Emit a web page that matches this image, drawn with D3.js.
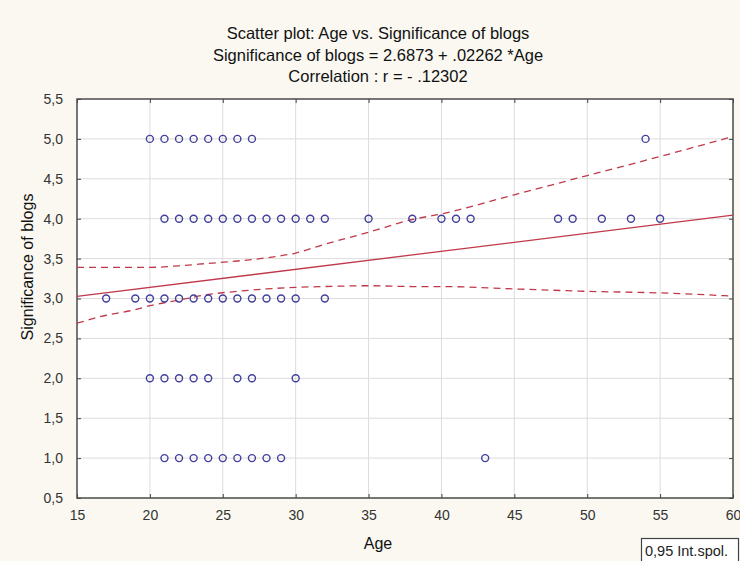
<!DOCTYPE html>
<html>
<head>
<meta charset="utf-8">
<script src="https://cdn.jsdelivr.net/npm/d3@7/dist/d3.min.js"></script>
<style>
  html, body { margin: 0; padding: 0; background: #faf8f1; }
  svg { display: block; }
  text { font-family: "Liberation Sans", Arial, sans-serif; }
</style>
</head>
<body>
<svg id="chart" width="740" height="561"></svg>
<script>
// ---- data ----
const titleLines = [
  "Scatter plot: Age vs. Significance of blogs",
  "Significance of blogs = 2.6873 + .02262 *Age",
  "Correlation : r = - .12302"
];
const xTicks = [15, 20, 25, 30, 35, 40, 45, 50, 55, 60];
const yTicks = [0.5, 1.0, 1.5, 2.0, 2.5, 3.0, 3.5, 4.0, 4.5, 5.0, 5.5];

const ageAt5 = [20, 21, 22, 23, 24, 25, 26, 27, 54];
const ageAt4 = [21, 22, 23, 24, 25, 26, 27, 28, 29, 30, 31, 32, 35, 38, 40, 41, 42, 48, 49, 51, 53, 55];
const ageAt3 = [17, 19, 20, 21, 22, 23, 24, 25, 26, 27, 28, 29, 30, 32];
const ageAt2 = [20, 21, 22, 23, 24, 26, 27, 30];
const ageAt1 = [21, 22, 23, 24, 25, 26, 27, 28, 29, 43];

const fitAge = [15, 60];
const fitValue = [3.026, 4.044];

const bandAge   = [15, 17, 19, 20, 22, 24, 26, 28, 30, 32, 35, 38, 40, 45, 50, 55, 60];
const bandUpper = [3.39, 3.39, 3.39, 3.39, 3.41, 3.44, 3.47, 3.51, 3.57, 3.68, 3.83, 3.99, 4.06, 4.30, 4.54, 4.78, 5.03];
const bandLower = [2.69, 2.79, 2.86, 2.91, 2.98, 3.05, 3.09, 3.12, 3.14, 3.15, 3.16, 3.15, 3.15, 3.12, 3.09, 3.07, 3.03];

const legendText = "0,95 Int.spol.";
const xLabel = "Age";
const yLabel = "Significance of blogs";

(function () {
// ---- build ----
const points = [];
[[5, ageAt5], [4, ageAt4], [3, ageAt3], [2, ageAt2], [1, ageAt1]].forEach(([v, ages]) => {
  ages.forEach(a => points.push({ age: a, sig: v }));
});

const svg = d3.select("#chart");
const pL = 77, pR = 733, pT = 99, pB = 498;

const x = d3.scaleLinear().domain([15, 60]).range([pL, pR]);
const y = d3.scaleLinear().domain([0.5, 5.5]).range([pB, pT]);

const fmt = d => d3.format(".1f")(d).replace(".", ",");

// plot background
svg.append("rect").attr("x", pL).attr("y", pT)
  .attr("width", pR - pL).attr("height", pB - pT)
  .attr("fill", "#ffffff");

// grid
svg.append("g").selectAll("line").data(xTicks.slice(1, -1)).join("line")
  .attr("x1", d => x(d)).attr("x2", d => x(d))
  .attr("y1", pT).attr("y2", pB)
  .attr("stroke", "#dcdcdc").attr("stroke-width", 1);
svg.append("g").selectAll("line").data(yTicks.slice(1, -1)).join("line")
  .attr("x1", pL).attr("x2", pR)
  .attr("y1", d => y(d)).attr("y2", d => y(d))
  .attr("stroke", "#dcdcdc").attr("stroke-width", 1);

// axes with inward ticks
const axisStyle = g => {
  g.select(".domain").remove();
  g.selectAll(".tick line").attr("stroke", "#444");
  g.selectAll(".tick text").attr("fill", "#333")
    .style("font-size", "14px").style("font-family", "'Liberation Sans', Arial, sans-serif");
};
svg.append("g").attr("transform", `translate(0,${pB})`)
  .call(d3.axisBottom(x).tickValues(xTicks).tickFormat(d3.format("d")).tickSizeInner(-4).tickPadding(12))
  .call(axisStyle);
svg.append("g").attr("transform", `translate(${pL},0)`)
  .call(d3.axisLeft(y).tickValues(yTicks).tickFormat(fmt).tickSizeInner(-4).tickPadding(14))
  .call(axisStyle);
svg.append("g").attr("transform", `translate(0,${pT})`)
  .call(d3.axisTop(x).tickValues(xTicks).tickFormat("").tickSizeInner(-4))
  .call(axisStyle);
svg.append("g").attr("transform", `translate(${pR},0)`)
  .call(d3.axisRight(y).tickValues(yTicks).tickFormat("").tickSizeInner(-4))
  .call(axisStyle);

// frame
svg.append("rect").attr("x", pL).attr("y", pT)
  .attr("width", pR - pL).attr("height", pB - pT)
  .attr("fill", "none").attr("stroke", "#4a4a4a").attr("stroke-width", 1.5);

// confidence bands
const bandLine = (vals) => d3.line().x((d, i) => x(bandAge[i])).y((d, i) => y(vals[i])).curve(d3.curveMonotoneX);
svg.append("path").datum(bandUpper).attr("d", bandLine(bandUpper))
  .attr("fill", "none").attr("stroke", "#c0394a").attr("stroke-width", 1.3).attr("stroke-dasharray", "7,5");
svg.append("path").datum(bandLower).attr("d", bandLine(bandLower))
  .attr("fill", "none").attr("stroke", "#c0394a").attr("stroke-width", 1.3).attr("stroke-dasharray", "7,5");

// fit line
svg.append("line")
  .attr("x1", x(fitAge[0])).attr("y1", y(fitValue[0]))
  .attr("x2", x(fitAge[1])).attr("y2", y(fitValue[1]))
  .attr("stroke", "#c0394a").attr("stroke-width", 1.3);

// points
svg.append("g").selectAll("circle").data(points).join("circle")
  .attr("cx", d => x(d.age)).attr("cy", d => y(d.sig)).attr("r", 3.5)
  .attr("fill", "none").attr("stroke", "#40409c").attr("stroke-width", 1.4);

// title
svg.append("g").selectAll("text").data(titleLines).join("text")
  .attr("x", 378).attr("y", (d, i) => 39 + i * 21.5)
  .attr("text-anchor", "middle").attr("fill", "#111")
  .style("font-size", "16.5px").text(d => d);

// axis labels
svg.append("text").attr("x", 378).attr("y", 549).attr("text-anchor", "middle")
  .attr("fill", "#111").style("font-size", "16px").text(xLabel);
svg.append("text").attr("transform", "translate(33,267) rotate(-90)").attr("text-anchor", "middle")
  .attr("fill", "#111").style("font-size", "16px").text(yLabel);

// legend box
svg.append("rect").attr("x", 641.5).attr("y", 538.5).attr("width", 97).attr("height", 25)
  .attr("fill", "#ffffff").attr("stroke", "#444").attr("stroke-width", 1.2);
svg.append("text").attr("x", 645).attr("y", 556).attr("fill", "#222")
  .style("font-size", "14.5px").text(legendText);
})();
</script>
</body>
</html>
